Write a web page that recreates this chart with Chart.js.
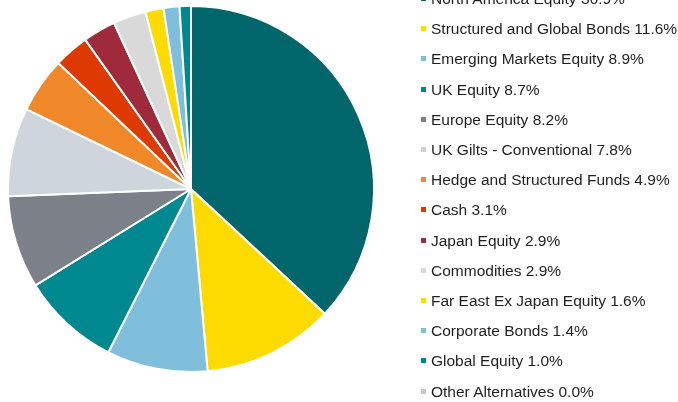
<!DOCTYPE html>
<html>
<head>
<meta charset="utf-8">
<script src="https://cdn.jsdelivr.net/npm/chart.js@4.4.1/dist/chart.umd.min.js"></script>
<style>
  html, body { margin: 0; padding: 0; background: #fff; }
  #wrap { position: relative; width: 678px; height: 402px; overflow: hidden; }
  #chart { position: absolute; left: 0; top: 0; }
  #legend { position: absolute; left: 421px; top: 0; margin: 0; padding: 0; list-style: none;
    font-family: "Liberation Sans", Arial, sans-serif; font-size: 15.5px; color: #1f1f1f; }
  #legend li { position: absolute; left: 0; white-space: nowrap; height: 20px; line-height: 20px; }
  #legend span.box { display: inline-block; width: 5px; height: 5px; margin-right: 5px; vertical-align: 3px; }
</style>
</head>
<body>
<div id="wrap">
  <canvas id="chart" width="678" height="402"></canvas>
  <ul id="legend"></ul>
</div>
<script>
const labels = [
  "North America Equity", "Structured and Global Bonds", "Emerging Markets Equity",
  "UK Equity", "Europe Equity", "UK Gilts - Conventional", "Hedge and Structured Funds",
  "Cash", "Japan Equity", "Commodities", "Far East Ex Japan Equity",
  "Corporate Bonds", "Global Equity", "Other Alternatives"
];
const values = [36.9, 11.6, 8.9, 8.7, 8.2, 7.8, 4.9, 3.1, 2.9, 2.9, 1.6, 1.4, 1.0, 0.0];
const colors = [
  "#00666b", "#fedb00", "#80bfdc", "#008890", "#7b8089", "#cfd5dd", "#f0882a",
  "#de3a00", "#9e2a3b", "#d9d9d9", "#fedb00", "#80bfdc", "#008890", "#c8c8c8"
];

// legend built from the same arrays
const legendEl = document.getElementById("legend");
labels.forEach((name, i) => {
  const li = document.createElement("li");
  li.style.top = (-11 + i * 30.2) + "px";
  li.innerHTML = `<span class="box" style="background:${colors[i]}"></span>${name} ${values[i].toFixed(1)}%`;
  legendEl.appendChild(li);
});

new Chart(document.getElementById("chart"), {
  type: "pie",
  data: {
    labels,
    datasets: [{
      data: values,
      backgroundColor: colors,
      borderColor: "#ffffff",
      borderWidth: 2
    }]
  },
  options: {
    responsive: false,
    animation: false,
    layout: { padding: { left: 7, top: 5, right: 303, bottom: 29 } },
    plugins: {
      legend: { display: false },
      tooltip: { enabled: false }
    }
  }
});
</script>
</body>
</html>
